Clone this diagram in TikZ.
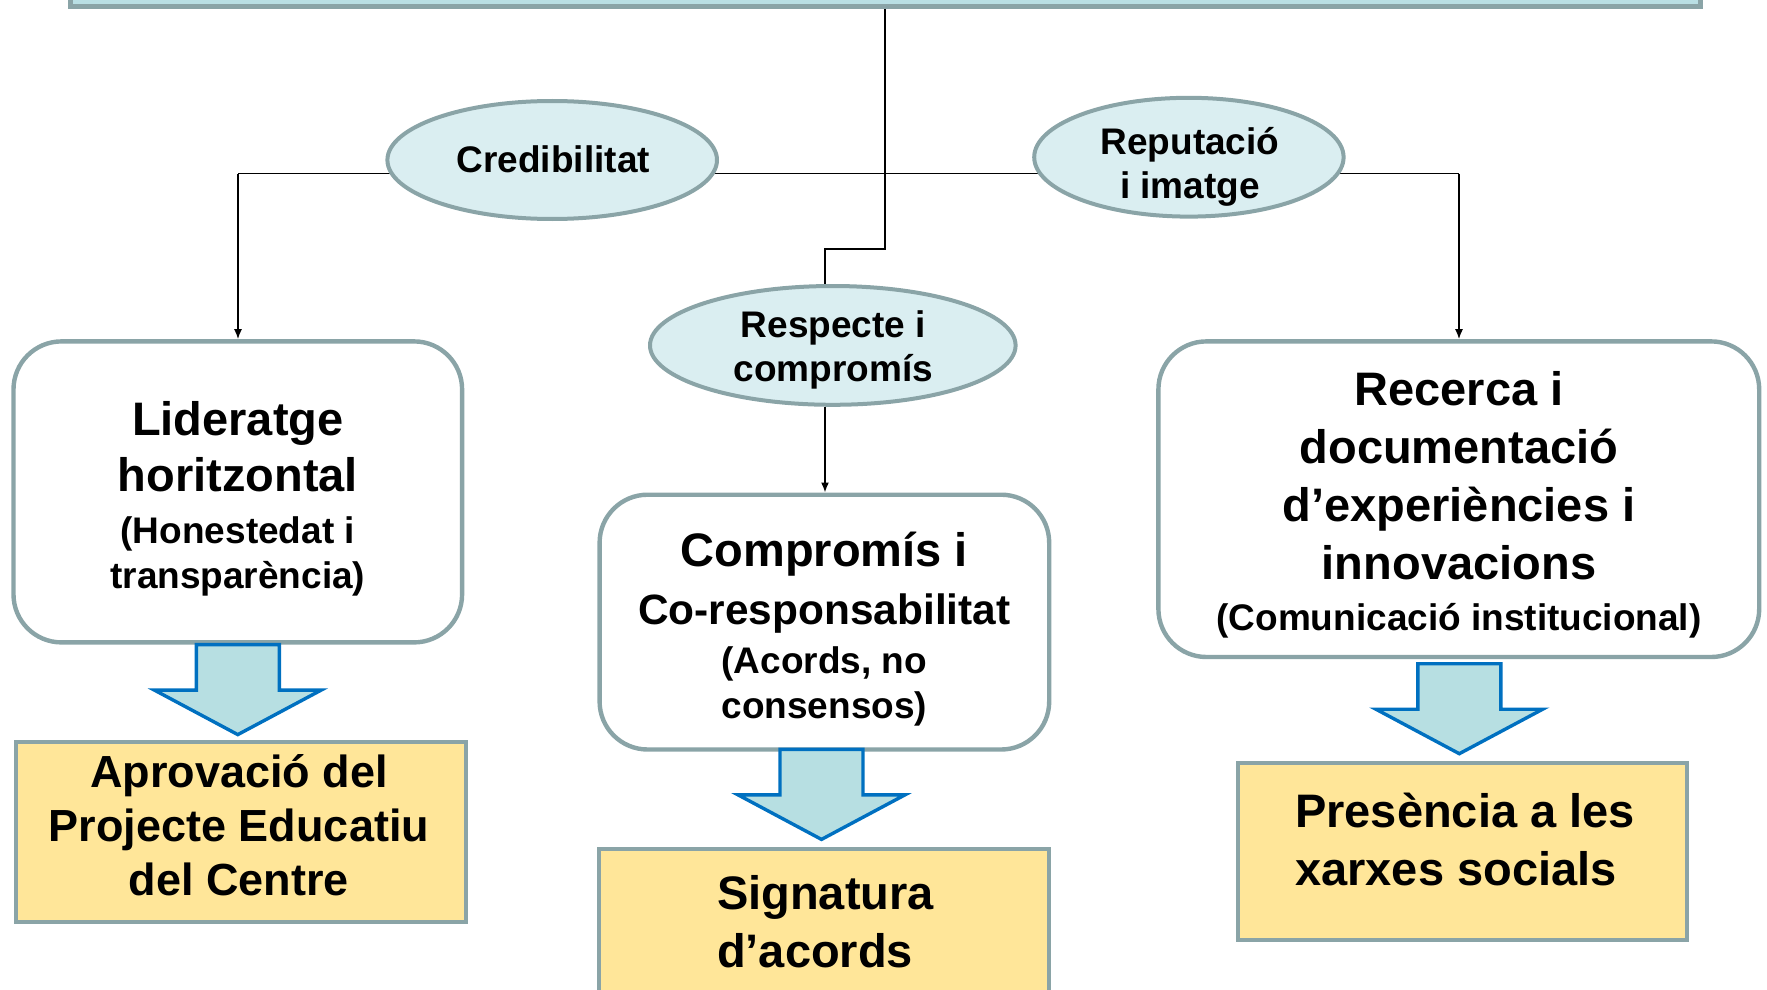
\documentclass[tikz,border=0pt]{standalone}
\usepackage{fontspec}
\setmainfont{Liberation Sans}
\usetikzlibrary{shapes.geometric,arrows.meta,backgrounds}
\definecolor{bord}{HTML}{8AA4A7}
\definecolor{ellfill}{HTML}{DAEEF1}
\definecolor{topfill}{HTML}{B9DFE4}
\definecolor{arrfill}{HTML}{B7DFE2}
\definecolor{arrblue}{HTML}{0070C0}
\definecolor{yel}{HTML}{FFE699}
\newcommand\fB{\fontsize{23.5}{23.5}\selectfont}
\newcommand\fC{\fontsize{21.2}{21.2}\selectfont}
\begin{document}
\begin{tikzpicture}[x=0.5pt,y=-0.5pt,
  topbox/.style={rectangle,draw=bord,line width=2.5pt,fill=topfill,inner sep=0},
  ell/.style={ellipse,draw=bord,line width=2pt,fill=ellfill,inner sep=0},
  rbox/.style={rectangle,draw=bord,line width=2.2pt,fill=white,rounded corners=24pt,inner sep=0},
  ybox/.style={rectangle,draw=bord,line width=2pt,fill=yel,inner sep=0},
  conn/.style={line width=0.8pt,black},
  arr/.style={conn,-{Latex[length=5pt,width=4pt]}},
  txt/.style={align=center,inner sep=0},
  blockarrow/.pic={\draw[line width=1.7pt,draw=arrblue,fill=arrfill]
    (-41.5,0) -- (41.5,0) -- (41.5,45.5) -- (83.4,45.5) -- (0,90) -- (-83.4,45.5) -- (-41.5,45.5) -- cycle;}
]
\useasboundingbox (0,0) rectangle (1767,990);

% top box
\node[topbox,minimum width=815pt,minimum height=18.25pt] (top) at (885,-11.75) {};

% ellipses
\node[ell,minimum width=164.8pt,minimum height=59pt] (cred) at (552.2,160) {};
\node[ell,minimum width=154.7pt,minimum height=59.4pt] (rep) at (1188.9,157.2) {};
\node[ell,minimum width=182.8pt,minimum height=59.4pt] (resp) at (832.8,345.4) {};

% rounded boxes
\node[rbox,minimum width=224.3pt,minimum height=150.5pt] (lider) at (237.8,491.9) {};
\node[rbox,minimum width=224.8pt,minimum height=127.4pt] (comp) at (824.4,622.1) {};
\node[rbox,minimum width=300.4pt,minimum height=157.8pt] (rec) at (1458.8,499.2) {};

% yellow boxes
\node[ybox,minimum width=225.1pt,minimum height=89.8pt] (aprov) at (240.6,832.2) {};
\node[ybox,minimum width=225pt,minimum height=73.6pt] (sign) at (824.4,923) {};
\node[ybox,minimum width=224.5pt,minimum height=88.7pt] (pres) at (1462.7,851.4) {};

% junction coordinates
\coordinate (hubL) at (238,173.5);
\coordinate (hubR) at (1459,173.5);
\coordinate (jog) at (885,249);
\coordinate (jog2) at (825,249);

\begin{pgfonlayer}{background}
\draw[conn] (hubL) -- (hubR);
\draw[conn] (top.south) -- (jog) -- (jog2) -- (jog2 |- resp.north);
\end{pgfonlayer}

\draw[arr] (hubL) -- (hubL |- lider.north);
\draw[arr] (hubR) -- (hubR |- rec.north);
\draw[arr] (jog2 |- resp.south) -- (jog2 |- comp.north);

% block arrows
\pic at (237.8,644.6) {blockarrow};
\pic at (821.5,749.4) {blockarrow};
\pic at (1459.3,663.7) {blockarrow};

% texts
\node[txt,font=\bfseries\fontsize{18.5}{22}\selectfont] (credt) at (553.3,159.5) {Credibilitat};
\node[txt,font=\bfseries\fontsize{18.5}{22}\selectfont] (rept) at (1190,166.4) {Reputació\\i imatge};
\node[txt,font=\bfseries\fontsize{18.5}{22}\selectfont] (respt) at (833.3,349.5) {Respecte i\\compromís};

\node[txt,font=\bfseries\fontsize{18.5}{22.5}\selectfont] (lidert) at (237.8,498.5)
  {{\fB Lideratge}\\[5.7pt]{\fB horitzontal}\\[3.4pt](Honestedat i\\transparència)};
\node[txt,font=\bfseries\fontsize{18.5}{22.5}\selectfont] (compt) at (824.3,628.6)
  {{\fB Compromís i}\\[6.8pt]{\fC Co-responsabilitat}\\[1.7pt](Acords, no\\consensos)};
\node[txt,font=\bfseries\fontsize{18.5}{25.3}\selectfont] (rect) at (1459,504.8)
  {{\fB Recerca i}\\[3.7pt]{\fB documentació}\\[3.7pt]{\fB d’experiències i}\\[3.7pt]{\fB innovacions}\\(Comunicació institucional)};

\node[txt,font=\bfseries\fontsize{22.5}{27}\selectfont] (aprovt) at (239,825)
  {Aprovació del\\Projecte Educatiu\\del Centre};
\node[txt,align=left,anchor=west,font=\bfseries\fontsize{23.5}{29.3}\selectfont] (signt) at (716.7,921.8)
  {Signatura\\d’acords};
\node[txt,align=left,anchor=west,font=\bfseries\fontsize{23.5}{29.3}\selectfont] (prest) at (1294.8,839.5)
  {Presència a les\\xarxes socials};
\end{tikzpicture}
\end{document}
